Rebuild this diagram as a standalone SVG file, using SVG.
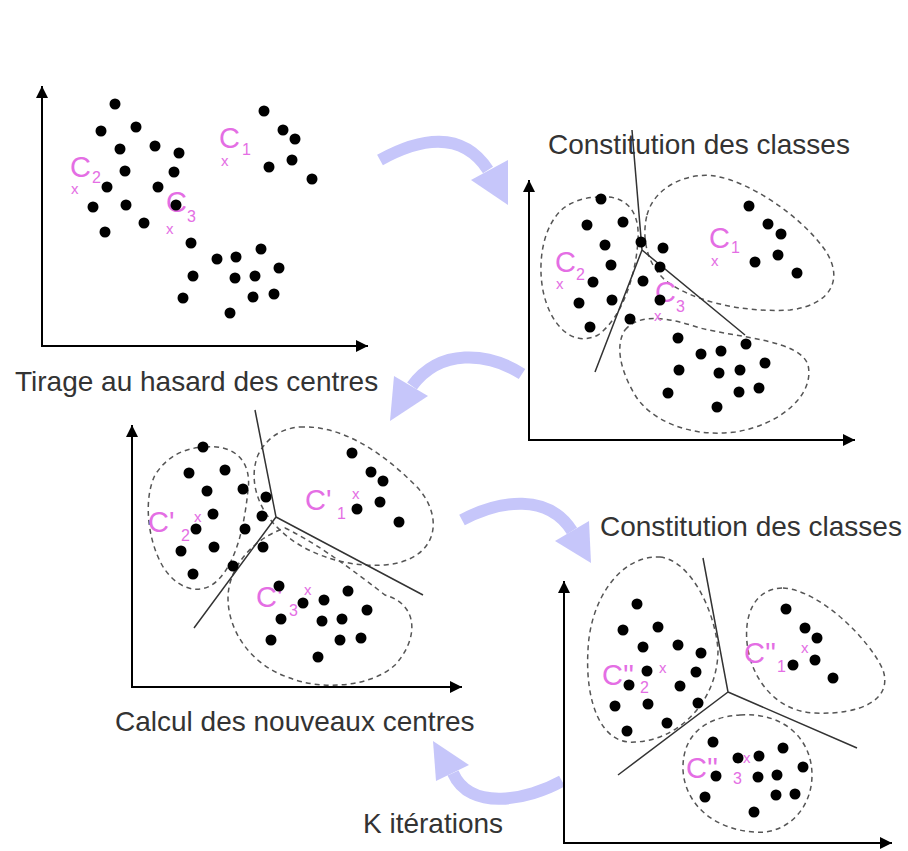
<svg xmlns="http://www.w3.org/2000/svg" width="908" height="851" viewBox="0 0 908 851">
<style>
.ax{stroke:#000;stroke-width:2;fill:none}
.dot{fill:#000}
.blob{fill:none;stroke:#555;stroke-width:1.5;stroke-dasharray:5 4}
.sep{stroke:#333;stroke-width:1.5;fill:none}
.lbl{font-family:"Liberation Sans",Arial,sans-serif;fill:#e46ee4}
.big{font-size:29px}
.sub{font-size:16px}
.xs{font-size:15px}
.ttl{font-family:"Liberation Sans",Arial,sans-serif;font-size:28px;fill:#333}
.band{fill:none;stroke:#c6c6fa;stroke-width:12}
.head{fill:#c6c6fa}
</style>
<defs>
<marker id="ah" viewBox="0 0 12 12" refX="12" refY="6" markerWidth="12" markerHeight="12" markerUnits="userSpaceOnUse" orient="auto-start-reverse"><path d="M0,0 L12,6 L0,12 Z" fill="#000"/></marker>
</defs>
<rect width="908" height="851" fill="#fff"/>

<g id="connectors">
<path class="band" d="M380,160 C420,138 462,130 488,170"/>
<polygon class="head" points="471,180 508,160 508,205"/>
<path class="band" d="M522,374 C488,352 440,348 412,386"/>
<polygon class="head" points="394,376 428,396 390,421"/>
<path class="band" d="M462,520 C500,500 548,493 572,531"/>
<polygon class="head" points="555,541 589,521 591,563"/>
<path class="band" d="M562,781 C528,800 470,812 453,773"/>
<polygon class="head" points="436,781 469,765 433,741"/>
</g>

<g id="panel1">
<polyline class="ax" points="42,86 42,346 368,346" marker-start="url(#ah)" marker-end="url(#ah)"/>
<text class="ttl" x="15" y="391">Tirage au hasard des centres</text>
<text class="lbl big" x="219" y="148">C</text><text class="lbl sub" x="242" y="155">1</text><text class="lbl xs" x="221" y="166">x</text>
<text class="lbl big" x="70" y="177">C</text><text class="lbl sub" x="92" y="183">2</text><text class="lbl xs" x="71" y="194">x</text>
<text class="lbl big" x="166" y="212">C</text><text class="lbl sub" x="187" y="222">3</text><text class="lbl xs" x="166" y="234">x</text>
<g class="dot">
<circle cx="115" cy="104" r="5.5"/><circle cx="101" cy="131" r="5.5"/><circle cx="136" cy="127" r="5.5"/><circle cx="120" cy="149" r="5.5"/><circle cx="155" cy="146" r="5.5"/><circle cx="179" cy="153" r="5.5"/><circle cx="125" cy="171" r="5.5"/><circle cx="174" cy="172" r="5.5"/><circle cx="107" cy="187" r="5.5"/><circle cx="158" cy="187" r="5.5"/><circle cx="176" cy="205" r="5.5"/><circle cx="93" cy="207" r="5.5"/><circle cx="126" cy="205" r="5.5"/><circle cx="144" cy="223" r="5.5"/><circle cx="105" cy="232" r="5.5"/>
<circle cx="264" cy="111" r="5.5"/><circle cx="283" cy="130" r="5.5"/><circle cx="295" cy="139" r="5.5"/><circle cx="292" cy="160" r="5.5"/><circle cx="269" cy="167" r="5.5"/><circle cx="312" cy="179" r="5.5"/>
<circle cx="191" cy="243" r="5.5"/><circle cx="217" cy="259" r="5.5"/><circle cx="236" cy="257" r="5.5"/><circle cx="261" cy="249" r="5.5"/><circle cx="279" cy="268" r="5.5"/><circle cx="193" cy="276" r="5.5"/><circle cx="235" cy="278" r="5.5"/><circle cx="255" cy="276" r="5.5"/><circle cx="183" cy="298" r="5.5"/><circle cx="253" cy="297" r="5.5"/><circle cx="274" cy="294" r="5.5"/><circle cx="230" cy="313" r="5.5"/>
</g>
</g>

<g id="panel2">
<polyline class="ax" points="529,180 529,440 855,440" marker-start="url(#ah)" marker-end="url(#ah)"/>
<text class="ttl" x="548" y="154">Constitution des classes</text>
<path class="blob" d="M600,197 C625,195 640,210 638,240 C636,275 622,318 598,335 C577,346 556,332 546,302 C536,272 540,226 565,207 C577,199 590,197 600,197 Z"/>
<path class="blob" d="M647,215 C655,185 690,172 715,176 C750,182 800,215 825,250 C845,280 830,305 790,310 C740,313 690,300 665,280 C645,262 642,235 647,215 Z"/>
<path class="blob" d="M625,330 C640,312 670,318 700,328 C740,338 800,340 808,365 C815,395 780,425 735,432 C690,438 650,420 635,395 C620,370 615,345 625,330 Z"/>
<path class="sep" d="M632,130 L642,250 L595,372 M642,250 L745,335"/>
<text class="lbl big" x="709" y="248">C</text><text class="lbl sub" x="731" y="253">1</text><text class="lbl xs" x="711" y="266">x</text>
<text class="lbl big" x="555" y="272">C</text><text class="lbl sub" x="576" y="280">2</text><text class="lbl xs" x="556" y="289">x</text>
<text class="lbl big" x="655" y="302">C</text><text class="lbl sub" x="676" y="312">3</text><text class="lbl xs" x="654" y="321">x</text>
<g class="dot">
<circle cx="601" cy="199" r="5.5"/><circle cx="587" cy="225" r="5.5"/><circle cx="623" cy="222" r="5.5"/><circle cx="605" cy="245" r="5.5"/><circle cx="641" cy="242" r="5.5"/><circle cx="663" cy="248" r="5.5"/><circle cx="611" cy="265" r="5.5"/><circle cx="660" cy="267" r="5.5"/><circle cx="593" cy="282" r="5.5"/><circle cx="643" cy="281" r="5.5"/><circle cx="579" cy="303" r="5.5"/><circle cx="612" cy="300" r="5.5"/><circle cx="660" cy="300" r="5.5"/><circle cx="630" cy="319" r="5.5"/><circle cx="590" cy="327" r="5.5"/>
<circle cx="749" cy="206" r="5.5"/><circle cx="768" cy="224" r="5.5"/><circle cx="781" cy="234" r="5.5"/><circle cx="778" cy="255" r="5.5"/><circle cx="755" cy="262" r="5.5"/><circle cx="797" cy="273" r="5.5"/>
<circle cx="678" cy="338" r="5.5"/><circle cx="746" cy="344" r="5.5"/><circle cx="701" cy="354" r="5.5"/><circle cx="721" cy="351" r="5.5"/><circle cx="765" cy="363" r="5.5"/><circle cx="679" cy="370" r="5.5"/><circle cx="719" cy="373" r="5.5"/><circle cx="740" cy="370" r="5.5"/><circle cx="668" cy="393" r="5.5"/><circle cx="739" cy="392" r="5.5"/><circle cx="759" cy="388" r="5.5"/><circle cx="717" cy="407" r="5.5"/>
</g>
</g>

<g id="panel3">
<polyline class="ax" points="132,425 132,687 462,687" marker-start="url(#ah)" marker-end="url(#ah)"/>
<text class="ttl" x="115" y="731">Calcul des nouveaux centres</text>
<path class="blob" d="M205,447 C235,444 252,462 248,490 C245,520 238,560 218,580 C200,598 175,588 162,565 C148,540 143,500 155,475 C168,455 185,448 205,447 Z"/>
<path class="blob" d="M300,427 C340,425 380,450 415,485 C445,515 440,560 385,565 C340,568 300,550 280,530 C258,510 248,480 258,455 C268,435 285,428 300,427 Z"/>
<path class="blob" d="M285,528 C310,540 340,560 385,595 C420,605 418,640 395,665 C370,688 320,690 290,678 C250,665 228,630 228,598 C228,570 250,540 285,528 Z"/>
<path class="sep" d="M255,410 L276,517 L194,628 M276,517 L423,595"/>
<text class="lbl big" x="305" y="510">C'</text><text class="lbl sub" x="337" y="519">1</text><text class="lbl xs" x="352" y="499">x</text>
<text class="lbl big" x="148" y="532">C'</text><text class="lbl sub" x="181" y="541">2</text><text class="lbl xs" x="194" y="522">x</text>
<text class="lbl big" x="256" y="607">C'</text><text class="lbl sub" x="289" y="616">3</text><text class="lbl xs" x="304" y="595">x</text>
<g class="dot">
<circle cx="203" cy="447" r="5.5"/><circle cx="189" cy="473" r="5.5"/><circle cx="225" cy="470" r="5.5"/><circle cx="207" cy="491" r="5.5"/><circle cx="243" cy="489" r="5.5"/><circle cx="266" cy="497" r="5.5"/><circle cx="213" cy="514" r="5.5"/><circle cx="262" cy="516" r="5.5"/><circle cx="196" cy="529" r="5.5"/><circle cx="245" cy="529" r="5.5"/><circle cx="181" cy="551" r="5.5"/><circle cx="214" cy="547" r="5.5"/><circle cx="263" cy="547" r="5.5"/><circle cx="233" cy="566" r="5.5"/><circle cx="193" cy="574" r="5.5"/>
<circle cx="352" cy="453" r="5.5"/><circle cx="371" cy="472" r="5.5"/><circle cx="383" cy="481" r="5.5"/><circle cx="357" cy="509" r="5.5"/><circle cx="380" cy="502" r="5.5"/><circle cx="399" cy="522" r="5.5"/>
<circle cx="279" cy="586" r="5.5"/><circle cx="303" cy="603" r="5.5"/><circle cx="324" cy="600" r="5.5"/><circle cx="348" cy="591" r="5.5"/><circle cx="367" cy="610" r="5.5"/><circle cx="281" cy="619" r="5.5"/><circle cx="322" cy="621" r="5.5"/><circle cx="342" cy="619" r="5.5"/><circle cx="271" cy="640" r="5.5"/><circle cx="340" cy="640" r="5.5"/><circle cx="361" cy="638" r="5.5"/><circle cx="318" cy="657" r="5.5"/>
</g>
</g>

<g id="panel4">
<polyline class="ax" points="564,581 564,843 892,843" marker-start="url(#ah)" marker-end="url(#ah)"/>
<text class="ttl" x="600" y="536">Constitution des classes</text>
<text class="ttl" x="363" y="833">K itérations</text>
<path class="blob" d="M660,557 C690,560 715,610 718,650 C718,700 680,740 635,742 C600,745 585,700 588,650 C590,600 620,555 660,557 Z"/>
<path class="blob" d="M783,588 C820,590 870,640 883,670 C893,700 860,715 815,713 C780,712 755,685 748,650 C742,615 755,588 783,588 Z"/>
<path class="blob" d="M740,715 C785,712 812,740 812,775 C812,810 785,835 755,832 C715,830 685,805 683,770 C682,735 705,717 740,715 Z"/>
<path class="sep" d="M703,558 L728,692 L618,775 M728,692 L857,748"/>
<text class="lbl big" x="744" y="663">C''</text><text class="lbl sub" x="777" y="672">1</text><text class="lbl xs" x="801" y="653">x</text>
<text class="lbl big" x="602" y="685">C''</text><text class="lbl sub" x="640" y="693">2</text><text class="lbl xs" x="659" y="673">x</text>
<text class="lbl big" x="686" y="778">C''</text><text class="lbl sub" x="733" y="784">3</text><text class="lbl xs" x="743" y="763">x</text>
<g class="dot">
<circle cx="637" cy="604" r="5.5"/><circle cx="623" cy="630" r="5.5"/><circle cx="658" cy="627" r="5.5"/><circle cx="643" cy="647" r="5.5"/><circle cx="678" cy="645" r="5.5"/><circle cx="701" cy="653" r="5.5"/><circle cx="647" cy="671" r="5.5"/><circle cx="696" cy="672" r="5.5"/><circle cx="629" cy="685" r="5.5"/><circle cx="680" cy="686" r="5.5"/><circle cx="615" cy="706" r="5.5"/><circle cx="648" cy="704" r="5.5"/><circle cx="698" cy="703" r="5.5"/><circle cx="667" cy="723" r="5.5"/><circle cx="627" cy="731" r="5.5"/>
<circle cx="786" cy="609" r="5.5"/><circle cx="805" cy="628" r="5.5"/><circle cx="817" cy="638" r="5.5"/><circle cx="815" cy="660" r="5.5"/><circle cx="793" cy="665" r="5.5"/><circle cx="833" cy="678" r="5.5"/>
<circle cx="713" cy="742" r="5.5"/><circle cx="738" cy="758" r="5.5"/><circle cx="759" cy="756" r="5.5"/><circle cx="783" cy="748" r="5.5"/><circle cx="803" cy="767" r="5.5"/><circle cx="716" cy="776" r="5.5"/><circle cx="758" cy="777" r="5.5"/><circle cx="777" cy="775" r="5.5"/><circle cx="705" cy="797" r="5.5"/><circle cx="776" cy="795" r="5.5"/><circle cx="795" cy="794" r="5.5"/><circle cx="754" cy="812" r="5.5"/>
</g>
</g>
</svg>
